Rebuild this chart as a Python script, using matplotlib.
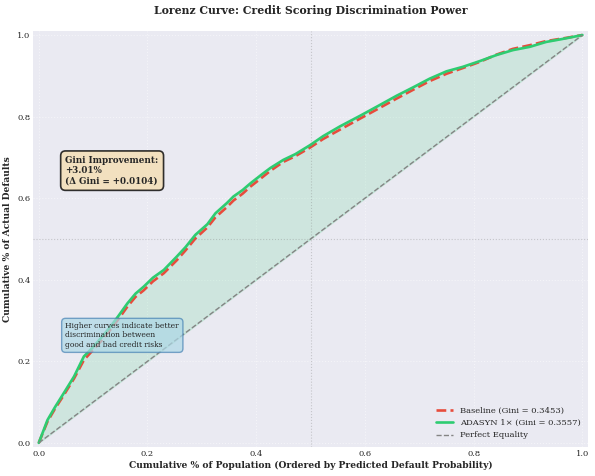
import numpy as np
import matplotlib
matplotlib.use("Agg")
import matplotlib.pyplot as plt

# Lorenz curve points
pop = [0.0, 0.016, 0.030, 0.046, 0.065, 0.083, 0.098, 0.115, 0.132, 0.148, 0.163,
       0.178, 0.193, 0.210, 0.230, 0.254, 0.270, 0.288, 0.310, 0.325, 0.346, 0.358,
       0.375, 0.389, 0.410, 0.426, 0.450, 0.472, 0.499, 0.523, 0.554, 0.591, 0.624,
       0.658, 0.689, 0.719, 0.750, 0.780, 0.811, 0.842, 0.872, 0.903, 0.933, 0.970, 1.0]
adasyn = [0.0, 0.056, 0.088, 0.122, 0.163, 0.212, 0.232, 0.258, 0.285, 0.314, 0.342,
          0.366, 0.383, 0.405, 0.424, 0.457, 0.480, 0.510, 0.536, 0.563, 0.588, 0.604,
          0.620, 0.636, 0.658, 0.674, 0.694, 0.708, 0.730, 0.752, 0.776, 0.802, 0.826,
          0.851, 0.872, 0.893, 0.911, 0.922, 0.936, 0.951, 0.963, 0.971, 0.983, 0.992, 1.0]
baseline = [0.0, 0.052, 0.084, 0.117, 0.158, 0.203, 0.225, 0.250, 0.278, 0.306, 0.334,
            0.358, 0.374, 0.396, 0.416, 0.448, 0.472, 0.501, 0.528, 0.553, 0.578, 0.594,
            0.611, 0.628, 0.650, 0.667, 0.689, 0.703, 0.724, 0.745, 0.768, 0.795, 0.819,
            0.844, 0.866, 0.887, 0.905, 0.919, 0.934, 0.952, 0.966, 0.975, 0.985, 0.993, 1.0]

gini_base = 0.3453
gini_adasyn = 0.3557
gini_delta = 0.0104
gini_pct = 3.01

plt.style.use("seaborn-v0_8-darkgrid")
plt.rcParams["font.family"] = "serif"
plt.rcParams["font.serif"] = ["DejaVu Serif"]

fig, ax = plt.subplots(figsize=(5.95, 4.76), dpi=100)
fig.subplots_adjust(left=0.056, right=0.988, top=0.935, bottom=0.061)

ax.fill_between(pop, pop, adasyn, color="#2ecc71", alpha=0.15)
ax.plot(pop, baseline, color="#e74c3c", linestyle="--", linewidth=1.9,
        label=f"Baseline (Gini = {gini_base:.4f})")
ax.plot(pop, adasyn, color="#2ecc71", linestyle="-", linewidth=1.9,
        label=f"ADASYN 1\u00d7 (Gini = {gini_adasyn:.4f})")
ax.plot([0, 1], [0, 1], color="#848484", linestyle="--", linewidth=1.0,
        label="Perfect Equality")

ax.axhline(0.5, color="gray", linestyle=":", linewidth=0.8, alpha=0.35)
ax.axvline(0.5, color="gray", linestyle=":", linewidth=0.8, alpha=0.35)

ax.grid(True, linestyle=":", alpha=0.5)
ax.set_xlim(-0.01, 1.01)
ax.set_ylim(-0.01, 1.01)
ax.tick_params(labelsize=6, pad=2)

ax.set_title("Lorenz Curve: Credit Scoring Discrimination Power",
             fontsize=7.8, fontweight="bold", pad=12)
ax.set_xlabel("Cumulative % of Population (Ordered by Predicted Default Probability)",
              fontsize=6.6, fontweight="bold", labelpad=2)
ax.set_ylabel("Cumulative % of Actual Defaults", fontsize=6.6, fontweight="bold", labelpad=4)

ax.text(0.058, 0.70,
        f"Gini Improvement:\n+{gini_pct:.2f}%\n(\u0394 Gini = +{gini_delta:.4f})",
        transform=ax.transAxes, fontsize=6.3, fontweight="bold", va="top",
        bbox=dict(boxstyle="round,pad=0.55", facecolor="wheat", alpha=0.8,
                  edgecolor="black", linewidth=1.2))
ax.text(0.058, 0.30,
        "Higher curves indicate better\ndiscrimination between\ngood and bad credit risks",
        transform=ax.transAxes, fontsize=5.5, va="top",
        bbox=dict(boxstyle="round,pad=0.5", facecolor="lightblue", alpha=0.7,
                  edgecolor="steelblue"))

ax.legend(loc="lower right", fontsize=6.0)

fig.savefig("out.png", dpi=100)
